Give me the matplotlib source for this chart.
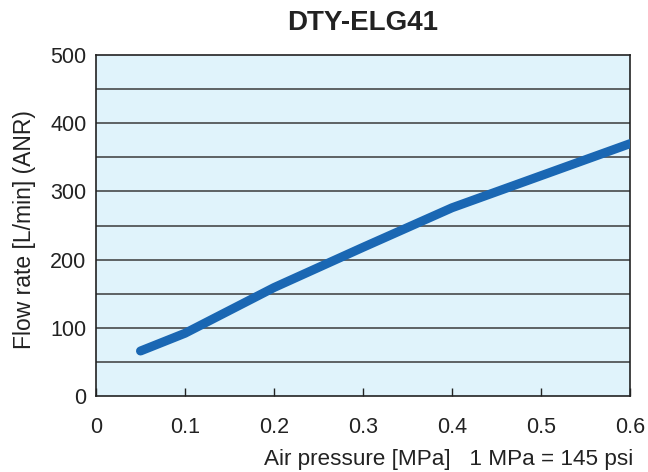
import matplotlib
matplotlib.use("Agg")
import matplotlib.pyplot as plt
import numpy as np

pressure = [0.05, 0.1, 0.2, 0.3, 0.4, 0.5, 0.6]
flow = [66, 92, 159, 218, 276, 323, 370]
x_ticks = [0, 0.1, 0.2, 0.3, 0.4, 0.5, 0.6]
x_tick_labels = ["0", "0.1", "0.2", "0.3", "0.4", "0.5", "0.6"]
y_ticks = [0, 100, 200, 300, 400, 500]
title = "DTY-ELG41"
xlabel = "Air pressure [MPa]   1 MPa = 145 psi"
ylabel = "Flow rate [L/min] (ANR)"

plt.rcParams['font.family'] = ['Liberation Sans', 'DejaVu Sans']

fig = plt.figure(figsize=(6.48, 4.72), dpi=100)
ax = fig.add_axes([96/648, 1-396/472, (630-96)/648, (396-55)/472])
ax.set_facecolor('#e0f3fb')
ax.set_xlim(0, 0.6)
ax.set_ylim(0, 500)
for yv in np.arange(50, 500, 50):
    ax.axhline(yv, color='#3a3a3a', lw=1.1, zorder=1)
ax.plot(pressure, flow, color='#1a67b3', lw=6.5, solid_capstyle='round', solid_joinstyle='round', zorder=3)
ax.set_xticks(x_ticks)
ax.set_xticklabels(x_tick_labels)
ax.set_yticks(y_ticks)
ax.tick_params(axis='x', direction='in', length=6, width=1, labelsize=15.5, pad=15, colors='#222222')
ax.tick_params(axis='y', length=0, labelsize=15.5, pad=7, colors='#222222')
for s in ax.spines.values():
    s.set_color('#222222')
    s.set_linewidth(1.2)
ax.set_title(title, fontsize=20, fontweight='bold', pad=18, color='#222222')
fig.text(633/648, 1-465/472, xlabel, ha='right', va='baseline', fontsize=16.2, color='#222222')
fig.text(25/648, 1-230/472, ylabel, ha='center', va='center', rotation=90, fontsize=16.5, color='#222222')
fig.savefig('out.png', dpi=100)
